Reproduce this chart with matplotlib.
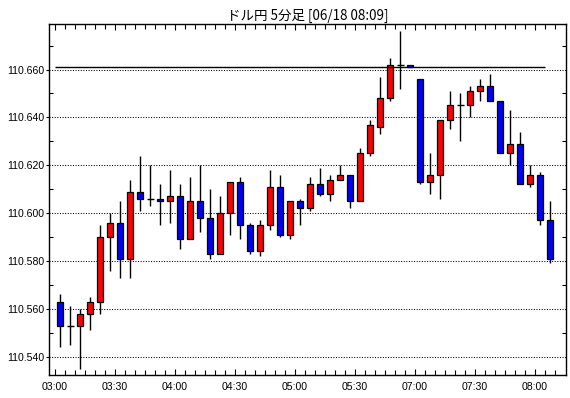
import matplotlib
matplotlib.use('Agg')
import matplotlib.pyplot as plt
from matplotlib.ticker import MultipleLocator, FixedLocator, NullFormatter, FormatStrFormatter
import numpy as np

plt.rcParams['font.family'] = ['Liberation Sans', 'Noto Sans CJK JP', 'DejaVu Sans']

title = 'ドル円 5分足 [06/18 08:09]'

opens = [110.563, 110.553, 110.553, 110.558, 110.563, 110.590, 110.596, 110.581, 110.609, 110.606,
         110.606, 110.605, 110.607, 110.589, 110.605, 110.598, 110.583, 110.600, 110.613, 110.595,
         110.584, 110.595, 110.611, 110.591, 110.605, 110.602, 110.612, 110.608, 110.614, 110.616,
         110.605, 110.625, 110.636, 110.648, 110.662, 110.662, 110.656, 110.613, 110.616, 110.639,
         110.645, 110.645, 110.651, 110.653, 110.647, 110.625, 110.629, 110.612, 110.616, 110.597]
highs = [110.566, 110.561, 110.560, 110.565, 110.595, 110.600, 110.605, 110.614, 110.624, 110.620,
         110.612, 110.618, 110.612, 110.615, 110.620, 110.610, 110.607, 110.613, 110.615, 110.596,
         110.597, 110.618, 110.616, 110.605, 110.606, 110.615, 110.619, 110.616, 110.620, 110.616,
         110.627, 110.639, 110.657, 110.665, 110.676, 110.662, 110.656, 110.625, 110.639, 110.651,
         110.650, 110.653, 110.656, 110.658, 110.647, 110.643, 110.634, 110.620, 110.617, 110.605]
lows = [110.544, 110.545, 110.535, 110.551, 110.558, 110.576, 110.573, 110.573, 110.601, 110.603,
        110.595, 110.596, 110.585, 110.589, 110.592, 110.581, 110.583, 110.591, 110.589, 110.583,
        110.582, 110.593, 110.590, 110.589, 110.595, 110.601, 110.607, 110.605, 110.614, 110.602,
        110.605, 110.624, 110.633, 110.647, 110.652, 110.661, 110.612, 110.608, 110.606, 110.635,
        110.630, 110.640, 110.647, 110.647, 110.625, 110.620, 110.612, 110.611, 110.595, 110.579]
closes = [110.553, 110.553, 110.558, 110.563, 110.590, 110.596, 110.581, 110.609, 110.606, 110.606,
          110.605, 110.607, 110.589, 110.605, 110.598, 110.583, 110.600, 110.613, 110.595, 110.584,
          110.595, 110.611, 110.591, 110.605, 110.602, 110.612, 110.608, 110.614, 110.616, 110.605,
          110.625, 110.637, 110.648, 110.662, 110.662, 110.661, 110.613, 110.616, 110.639, 110.645,
          110.645, 110.651, 110.653, 110.647, 110.625, 110.629, 110.612, 110.616, 110.597, 110.581]

xtick_labels = ['03:00', '03:30', '04:00', '04:30', '05:00', '05:30', '07:00', '07:30', '08:00']
ref_level = 110.661

W, H = 570, 398
fig = plt.figure(figsize=(W / 100, H / 100), dpi=100)
L, R, T, B = 49.3, 565.5, 24.3, 375.3
ax = fig.add_axes([L / W, 1 - B / H, (R - L) / W, (B - T) / H])

o = np.array(opens)
h = np.array(highs)
l = np.array(lows)
c = np.array(closes)
x = np.arange(len(o))
up = c > o
dn = c < o
flat = c == o

ax.vlines(x, l, h, color='black', lw=1.0, zorder=2)
ax.bar(x[up], (c - o)[up], bottom=o[up], width=0.62, color='#ff0000',
       edgecolor='black', linewidth=0.9, zorder=3)
ax.bar(x[dn], (o - c)[dn], bottom=c[dn], width=0.62, color='#0000ff',
       edgecolor='black', linewidth=0.9, zorder=3)
ax.hlines(o[flat], x[flat] - 0.35, x[flat] + 0.35, color='black', lw=1.0, zorder=3)
ax.hlines(ref_level, -0.5, 48.5, color='black', lw=1.0, zorder=4)

ax.set_xlim(-1.07, 50.55)
ax.set_ylim(110.5322, 110.6789)

# y axis
ax.yaxis.set_major_locator(MultipleLocator(0.02))
ax.yaxis.set_minor_locator(MultipleLocator(0.01))
ax.yaxis.set_major_formatter(FormatStrFormatter('%.3f'))
ax.grid(axis='y', which='major', color='black', linestyle=(0, (1, 1.5)), lw=0.75)
ax.set_axisbelow(True)

# x axis
n = len(o)
major_pos = [-0.5 + 6 * k for k in range(len(xtick_labels))]
ax.xaxis.set_major_locator(FixedLocator(major_pos))
ax.set_xticklabels(xtick_labels)
ax.xaxis.set_minor_locator(FixedLocator([-0.5 + k for k in range(n + 1)]))

ax.tick_params(axis='y', which='major', direction='out', length=2.5, width=0.8,
               labelsize=7.6, pad=1, right=False)
ax.tick_params(axis='y', which='minor', direction='in', length=3, width=0.8, right=True)
ax.tick_params(axis='x', which='major', direction='in', length=4.5, width=0.8,
               labelsize=7.6, pad=4.5, top=True)
ax.tick_params(axis='x', which='minor', direction='in', length=3.5, width=0.8, top=True)

for s in ax.spines.values():
    s.set_linewidth(1.0)
    s.set_color('black')

fig.text((L + R) / 2 / W, 1 - 15.5 / H, title, ha='center', va='center',
         fontsize=9.7, family=['Noto Sans CJK JP', 'DejaVu Sans'])

fig.savefig('out.png', dpi=100)
